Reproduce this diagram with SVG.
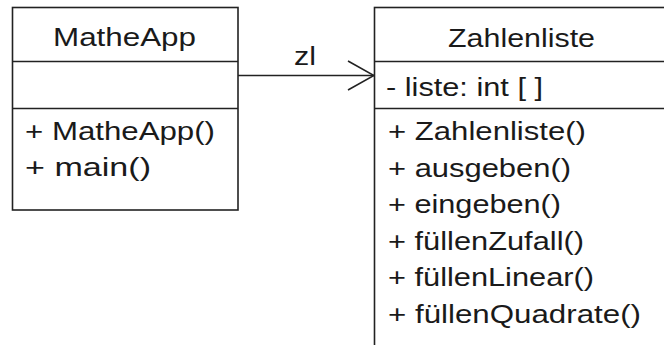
<svg xmlns="http://www.w3.org/2000/svg" width="664" height="345" viewBox="0 0 664 345">
  <style>
    .box { fill: #ffffff; stroke: #222222; stroke-width: 1.6; }
    .div { stroke: #222222; stroke-width: 1.6; fill: none; }
    .conn { stroke: #222222; stroke-width: 1.6; fill: none; }
    text { font-family: "Liberation Sans", Arial, sans-serif; font-size: 25px; fill: #1a1a1a; }
  </style>
  <defs>
    <marker id="open" viewBox="0 0 28 32" refX="27" refY="16" markerWidth="28" markerHeight="32" markerUnits="userSpaceOnUse" orient="auto">
      <path d="M1,1.5 L27,16 L1,30.5" fill="none" stroke="#222222" stroke-width="1.6"/>
    </marker>
  </defs>
  <rect width="664" height="345" fill="#ffffff"/>

  <g id="connectors">
    <line class="conn" x1="238" y1="75.5" x2="374" y2="75.5" marker-end="url(#open)"/>
    <text x="294" y="65" textLength="22" lengthAdjust="spacingAndGlyphs">zl</text>
  </g>

  <g id="MatheApp">
    <rect class="box" x="12.5" y="7.5" width="225.5" height="202.5"/>
    <line class="div" x1="12.5" y1="61.5" x2="238" y2="61.5"/>
    <line class="div" x1="12.5" y1="108.5" x2="238" y2="108.5"/>
    <text x="53" y="46" textLength="143" lengthAdjust="spacingAndGlyphs">MatheApp</text>
    <text x="25" y="140" textLength="190" lengthAdjust="spacingAndGlyphs">+ MatheApp()</text>
    <text x="25" y="176" textLength="126" lengthAdjust="spacingAndGlyphs">+ main()</text>
  </g>

  <g id="Zahlenliste">
    <rect class="box" x="374.5" y="7.5" width="320" height="400"/>
    <line class="div" x1="374.5" y1="61.5" x2="664" y2="61.5"/>
    <line class="div" x1="374.5" y1="108.5" x2="664" y2="108.5"/>
    <text x="448" y="46.5" textLength="147" lengthAdjust="spacingAndGlyphs">Zahlenliste</text>
    <text x="386" y="96" textLength="157" lengthAdjust="spacingAndGlyphs">- liste: int [ ]</text>
    <text x="388" y="140" textLength="198" lengthAdjust="spacingAndGlyphs">+ Zahlenliste()</text>
    <text x="388" y="176.5" textLength="183" lengthAdjust="spacingAndGlyphs">+ ausgeben()</text>
    <text x="388" y="213" textLength="173" lengthAdjust="spacingAndGlyphs">+ eingeben()</text>
    <text x="388" y="249.5" textLength="196" lengthAdjust="spacingAndGlyphs">+ füllenZufall()</text>
    <text x="388" y="286" textLength="206" lengthAdjust="spacingAndGlyphs">+ füllenLinear()</text>
    <text x="388" y="322.5" textLength="253" lengthAdjust="spacingAndGlyphs">+ füllenQuadrate()</text>
  </g>
</svg>
